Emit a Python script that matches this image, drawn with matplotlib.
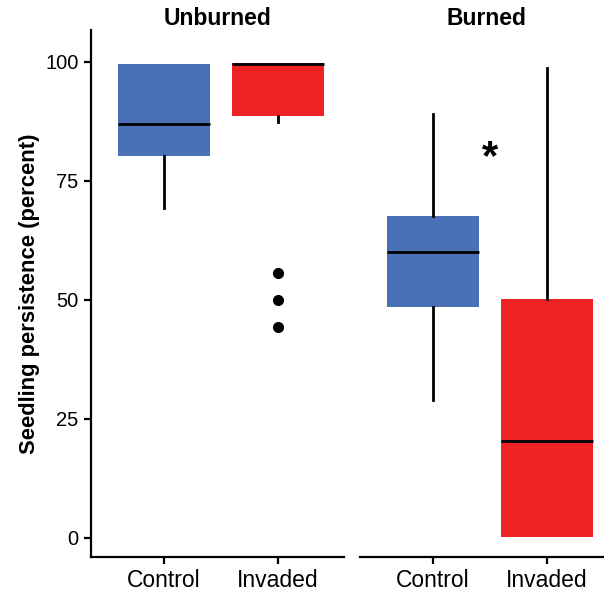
import matplotlib
matplotlib.use("Agg")
import matplotlib.pyplot as plt

# Data (percent)
panels = ["Unburned", "Burned"]
groups = ["Control", "Invaded"]
q1 = {"Unburned": [80.3, 88.7], "Burned": [48.5, 0.3]}
med = {"Unburned": [87.0, 99.6], "Burned": [60.1, 20.4]}
q3 = {"Unburned": [99.6, 99.7], "Burned": [67.6, 50.2]}
whislo = {"Unburned": [69.3, 87.3], "Burned": [29.0, 0.3]}
whishi = {"Unburned": [99.6, 99.7], "Burned": [89.1, 98.7]}
fliers = {"Unburned": [[], [55.6, 50.0, 44.4]], "Burned": [[], []]}
star_pos = {"Burned": (1.5, 79.7)}
box_colors = ["#4A71B6", "#EE2225"]

plt.rcParams["font.family"] = ["Liberation Sans", "DejaVu Sans"]

fig = plt.figure(figsize=(6.04, 5.94), dpi=100)
ax_pos = [[0.1507, 0.0623, 0.419, 0.8872], [0.596, 0.0623, 0.419, 0.8872]]

for i, name in enumerate(panels):
    ax = fig.add_axes(ax_pos[i])
    stats = []
    for j in range(len(groups)):
        stats.append({
            "med": med[name][j], "q1": q1[name][j], "q3": q3[name][j],
            "whislo": whislo[name][j], "whishi": whishi[name][j],
            "fliers": fliers[name][j], "label": groups[j],
        })
    bp = ax.bxp(stats, positions=[1, 2], widths=0.8, patch_artist=True,
                showcaps=False,
                medianprops=dict(color="black", linewidth=2),
                whiskerprops=dict(color="black", linewidth=2),
                flierprops=dict(marker="o", markerfacecolor="black",
                                markeredgecolor="black", markersize=7))
    for patch, c in zip(bp["boxes"], box_colors):
        patch.set_facecolor(c)
        patch.set_edgecolor("none")
        patch.set_linewidth(0)

    ax.set_xlim(0.36, 2.58)
    ax.set_ylim(-4, 106.7)
    ax.set_xticks([1, 2])
    ax.set_xticklabels(groups, fontsize=16.5)
    ax.set_title(name, fontsize=16.5, fontweight="bold", pad=0)
    for s in ["top", "right"]:
        ax.spines[s].set_visible(False)
    ax.spines["bottom"].set_linewidth(1.6)
    ax.spines["left"].set_linewidth(1.6)
    ax.tick_params(axis="both", length=5, width=1.6, pad=4)
    ax.tick_params(axis="x", labelsize=16.5)
    ax.tick_params(axis="y", labelsize=14.5)

    if i == 0:
        ax.set_yticks([0, 25, 50, 75, 100])
        ax.set_ylabel("Seedling persistence (percent)", fontsize=15.8,
                      fontweight="bold", labelpad=4)
    else:
        ax.spines["left"].set_visible(False)
        ax.set_yticks([])
        ax.text(star_pos[name][0], star_pos[name][1], "*", fontsize=30,
                fontweight="bold", ha="center", va="center")

fig.savefig("out.png", dpi=100)
